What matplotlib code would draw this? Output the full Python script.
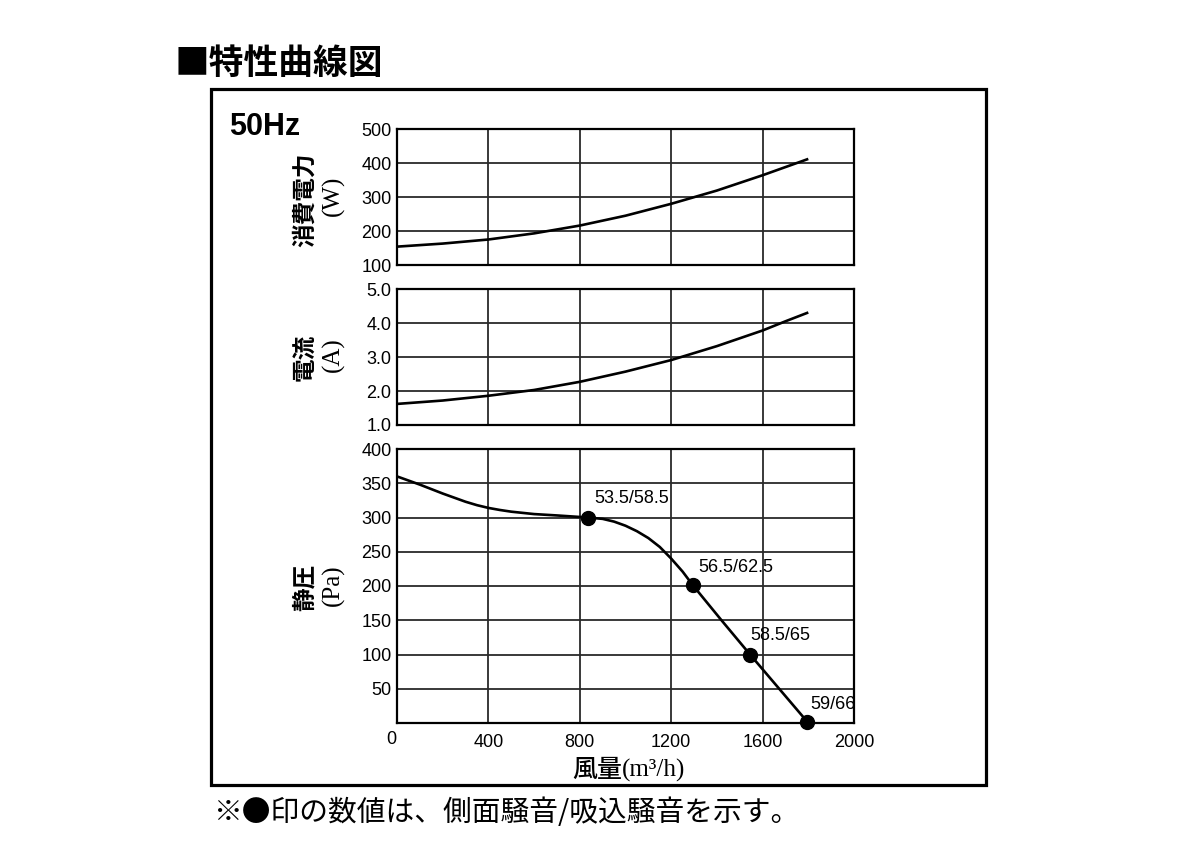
import matplotlib
matplotlib.use("Agg")
import matplotlib.pyplot as plt
from matplotlib.patches import Rectangle

# ---------------- data ----------------
airflow_ticks = [0, 400, 800, 1200, 1600, 2000]
xtick_labels = ["", "400", "800", "1200", "1600", "2000"]

power_x = [0, 200, 400, 600, 800, 1000, 1200, 1400, 1600, 1700, 1800]
power_w = [154, 163, 175, 193, 216, 245, 280, 319, 364, 388, 412]
power_ticks = [100, 200, 300, 400, 500]

current_x = [0, 200, 400, 600, 800, 1000, 1200, 1400, 1600, 1700, 1800]
current_a = [1.62, 1.72, 1.86, 2.03, 2.27, 2.57, 2.91, 3.32, 3.78, 4.05, 4.31]
current_ticks = [1.0, 2.0, 3.0, 4.0, 5.0]
current_tick_labels = ["1.0", "2.0", "3.0", "4.0", "5.0"]

pressure_x = [0, 100, 200, 300, 350, 400, 450, 500, 600, 700, 835, 900, 950,
              1000, 1050, 1100, 1150, 1200, 1250, 1295, 1420, 1545, 1670, 1795]
pressure_pa = [360, 348, 335, 323, 318, 314, 311, 308.5, 305, 303, 300, 298, 294,
               288, 280, 270, 257, 240, 221, 201, 150, 100, 51, 2]
pressure_ticks = [50, 100, 150, 200, 250, 300, 350, 400]

dot_x = [835, 1295, 1545, 1795]
dot_pa = [300, 201, 100, 2]
dot_labels = ["53.5/58.5", "56.5/62.5", "58.5/65", "59/66"]

# ---------------- style ----------------
W, H = 1200, 848
fig = plt.figure(figsize=(12, 8.48), dpi=100)

SANS = "Liberation Sans"
SERIF = "Liberation Serif"
CJK = "Noto Sans CJK JP"
GRID = "#2a2a2a"

def fx(px):
    return px / W

def fy(py):
    return 1 - py / H

left, right = 397, 854
panels = {
    "power": (129, 265),
    "current": (289, 425),
    "pressure": (449, 723),
}

def make_ax(top, bottom):
    ax = fig.add_axes([fx(left), fy(bottom), fx(right - left), (bottom - top) / H])
    for s in ax.spines.values():
        s.set_linewidth(1.6)
        s.set_color("black")
    ax.set_xlim(0, 2000)
    ax.set_xticks(airflow_ticks)
    ax.grid(True, color=GRID, linewidth=1.3)
    ax.tick_params(length=0, labelsize=13, pad=4)
    return ax

# power
ax1 = make_ax(*panels["power"])
ax1.set_ylim(100, 500)
ax1.set_yticks(power_ticks)
ax1.set_yticklabels([str(v) for v in power_ticks], fontfamily=SANS, fontsize=13)
ax1.set_xticklabels([])
ax1.plot(power_x, power_w, color="black", lw=1.9, solid_capstyle="butt",
         solid_joinstyle="round")

# current
ax2 = make_ax(*panels["current"])
ax2.set_ylim(1.0, 5.0)
ax2.set_yticks(current_ticks)
ax2.set_yticklabels(current_tick_labels, fontfamily=SANS, fontsize=13)
ax2.set_xticklabels([])
ax2.plot(current_x, current_a, color="black", lw=1.9, solid_capstyle="butt",
         solid_joinstyle="round")

# pressure
ax3 = make_ax(*panels["pressure"])
ax3.set_ylim(0, 400)
ax3.set_yticks(pressure_ticks)
ax3.set_yticklabels([str(v) for v in pressure_ticks], fontfamily=SANS, fontsize=13)
ax3.set_xticklabels(xtick_labels, fontfamily=SANS, fontsize=13)
ax3.tick_params(axis="x", pad=8)
ax3.plot(pressure_x, pressure_pa, color="black", lw=1.9, solid_capstyle="butt",
         solid_joinstyle="round")
ax3.plot(dot_x, dot_pa, "o", color="black", markersize=10, clip_on=False, zorder=5)
label_offsets = [(5, 14), (4, 13), (0, 14), (2, 12)]
for x, y, t, off in zip(dot_x, dot_pa, dot_labels, label_offsets):
    ax3.annotate(t, xy=(x, y), xytext=off, textcoords="offset points",
                 ha="left", va="center", fontsize=13, fontfamily=SANS,
                 annotation_clip=False)
ax3.annotate("0", xy=(0, 0), xytext=(-4, -12), textcoords="offset points",
             ha="center", va="center", fontsize=13, fontfamily=SANS,
             annotation_clip=False)

# y labels (rotated)
ylabels = [("消費電力", "(W)", 200, 196), ("電流", "(A)", 357, 355), ("静圧", "(Pa)", 587, 585)]
for jp, unit, yc_jp, yc_unit in ylabels:
    fig.text(fx(305), fy(yc_jp), jp, rotation=90, ha="center", va="center",
             fontsize=17, fontfamily=CJK, fontweight="bold")
    fig.text(fx(333), fy(yc_unit), unit, rotation=90, ha="center", va="center",
             fontsize=18, fontfamily=SERIF)

# x label
fig.text(fx(622), fy(770), "風量", ha="right", va="center", fontsize=18,
         fontfamily=CJK, fontweight="medium")
fig.text(fx(622), fy(770), "(m³/h)", ha="left", va="center", fontsize=18,
         fontfamily=SERIF)

# frame
fig.add_artist(Rectangle((fx(211), fy(785)), fx(986 - 211), (785 - 89) / H,
                         transform=fig.transFigure, fill=False, lw=2.3,
                         edgecolor="black"))

# titles and notes
fig.text(fx(175), fy(63), "■特性曲線図", ha="left", va="center", fontsize=25,
         fontfamily=CJK, fontweight="bold")
fig.text(fx(229), fy(127), "50Hz", ha="left", va="center", fontsize=22,
         fontfamily=SANS, fontweight="bold")
fig.text(fx(213), fy(813), "※●印の数値は、側面騒音/吸込騒音を示す。", ha="left",
         va="center", fontsize=20.7, fontfamily=CJK)

fig.savefig("out.png", dpi=100, facecolor="white")
